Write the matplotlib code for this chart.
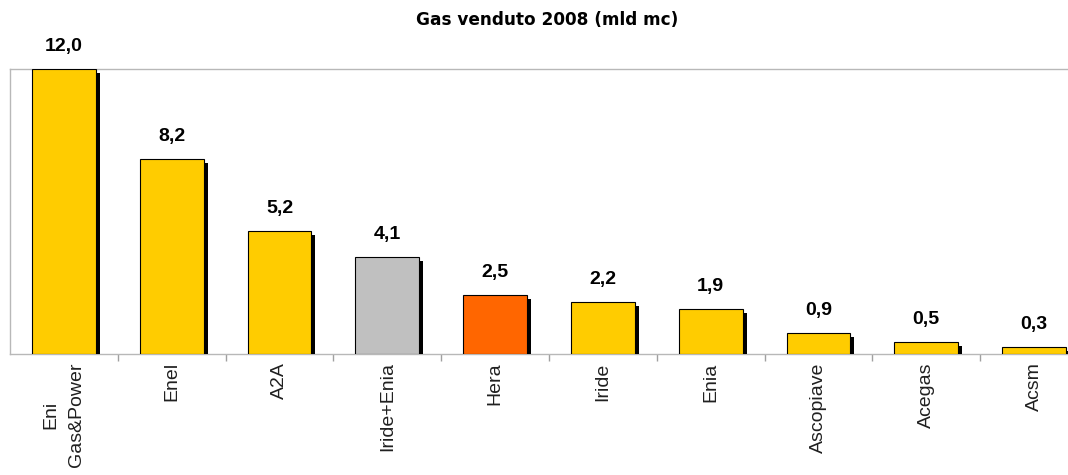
import matplotlib
matplotlib.use("Agg")
import matplotlib.pyplot as plt
import matplotlib.patheffects as pe
import numpy as np

categories = ["Eni\nGas&Power", "Enel", "A2A", "Iride+Enia", "Hera", "Iride",
              "Enia", "Ascopiave", "Acegas", "Acsm"]
values = [12.0, 8.2, 5.2, 4.1, 2.5, 2.2, 1.9, 0.9, 0.5, 0.3]
colors = ["#FFCC00", "#FFCC00", "#FFCC00", "#C0C0C0", "#FF6600", "#FFCC00",
          "#FFCC00", "#FFCC00", "#FFCC00", "#FFCC00"]
title = "Gas venduto 2008 (mld mc)"

W, H = 1068, 475
fig = plt.figure(figsize=(W / 100, H / 100), dpi=100)
ax = fig.add_axes([10 / W, 1 - 354 / H, 1078 / W, 285 / H])

x = np.arange(len(categories))
bars = ax.bar(x, values, width=0.59, color=colors, edgecolor="black",
              linewidth=0.8, zorder=3)
for b in bars:
    b.set_path_effects([pe.SimplePatchShadow(offset=(3, -3), shadow_rgbFace="black",
                                             alpha=1.0), pe.Normal()])

for xi, v in zip(x, values):
    ax.annotate(f"{v:.1f}".replace(".", ","), (xi, v), xytext=(0, 10),
                textcoords="offset points", ha="center", va="bottom",
                fontsize=14, fontweight="bold", family="Liberation Sans")

ax.set_xlim(-0.5, len(categories) - 0.5)
ax.set_ylim(0, 12)
ax.set_yticks([])
ax.set_xticks(x)
ax.set_xticklabels(categories, rotation=90, fontsize=14, family="Liberation Sans",
                   ha="center", va="top", multialignment="center", color="#202020",
                   linespacing=1.7)
ax.tick_params(axis="x", which="major", length=0, pad=6)
ax.set_xticks(np.arange(0.5, len(categories) - 0.5, 1), minor=True)
ax.tick_params(axis="x", which="minor", length=5, color="#A0A0A0", width=1)

for s in ["left", "top", "bottom", "right"]:
    ax.spines[s].set_color("#B8B8B8")
    ax.spines[s].set_linewidth(1)

fig.text(547 / W, 1 - 20 / H, title, ha="center", va="center",
         fontsize=12.2, fontweight="bold", family="DejaVu Sans")

fig.savefig("out.png", dpi=100)
